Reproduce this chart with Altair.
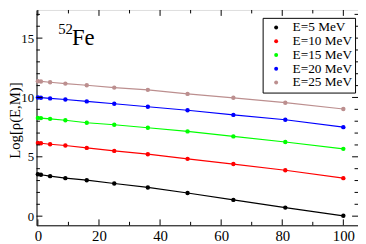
import altair as alt
import pandas as pd

# ---- data ----
x_vals = [0, 1, 4, 9, 16, 25, 36, 49, 64, 81, 100]
series_names = ["E=5 MeV", "E=10 MeV", "E=15 MeV", "E=20 MeV", "E=25 MeV"]
e5 = [3.53, 3.49, 3.37, 3.20, 3.03, 2.75, 2.42, 1.95, 1.37, 0.72, 0.03]
e10 = [6.17, 6.14, 6.06, 5.95, 5.75, 5.50, 5.22, 4.83, 4.39, 3.87, 3.20]
e15 = [8.28, 8.26, 8.20, 8.08, 7.87, 7.70, 7.45, 7.14, 6.72, 6.25, 5.67]
e20 = [10.00, 9.98, 9.92, 9.83, 9.67, 9.47, 9.22, 8.92, 8.53, 8.12, 7.50]
e25 = [11.37, 11.35, 11.28, 11.17, 11.03, 10.83, 10.64, 10.30, 9.97, 9.56, 9.03]
colors = ["#000000", "#ff0000", "#00ff00", "#0000ff", "#bc8f8f"]

x_major = [0, 20, 40, 60, 80, 100]
x_minor = [10, 30, 50, 70, 90]
y_major = [0, 5, 10, 15]
y_minor = [1, 2, 3, 4, 6, 7, 8, 9, 11, 12, 13, 14, 16, 17]

rows = []
for name, ys in zip(series_names, [e5, e10, e15, e20, e25]):
    for xv, yv in zip(x_vals, ys):
        rows.append({"M": xv, "rho": yv, "E": name})
df = pd.DataFrame(rows)

W, H = 327, 219
FONT = "Liberation Serif"

xscale = alt.Scale(domain=[-0.45, 104.8], nice=False, zero=False)
yscale = alt.Scale(domain=[-0.77, 17.37], nice=False, zero=False)

color = alt.Color(
    "E:N",
    scale=alt.Scale(domain=series_names, range=colors),
    sort=series_names,
    legend=alt.Legend(
        title=None,
        orient="none",
        legendX=230,
        legendY=8,
        strokeColor="#000000",
        fillColor="#ffffff",
        padding=3,
        symbolOffset=4,
        symbolType="circle",
        symbolSize=16,
        symbolStrokeWidth=0,
        labelOffset=10,
        labelFont=FONT,
        labelFontSize=13.5,
        labelColor="#000000",
        rowPadding=-4,
        cornerRadius=0,
    ),
)

xenc = alt.X(
    "M:Q",
    scale=xscale,
    axis=alt.Axis(
        values=x_major, ticks=False, domain=True, domainColor="#000000",
        grid=False, labelFont=FONT, labelFontSize=15, labelColor="#000000",
        labelPadding=3, title=None,
    ),
)
yenc = alt.Y(
    "rho:Q",
    scale=yscale,
    axis=alt.Axis(
        values=y_major, ticks=False, domain=True, domainColor="#000000",
        grid=False, labelFont=FONT, labelFontSize=13, labelColor="#000000",
        labelPadding=3, title="Log[ρ(E,M)]", titleFont=FONT, titleFontSize=15,
        titleFontWeight="normal", titleColor="#000000",
        titleX=-17, titleY=112, titleBaseline="alphabetic",
    ),
)

base = alt.Chart(df)
lines = base.mark_line(strokeWidth=1.2, clip=True).encode(x=xenc, y=yenc, color=color, detail="E:N")
pts = base.mark_circle(size=20, opacity=1).encode(x="M:Q", y="rho:Q", color=alt.Color("E:N", legend=None, scale=alt.Scale(domain=series_names, range=colors)))

# tick marks (inward, on all four sides)
xmaj = pd.DataFrame({"v": x_major})
xmin = pd.DataFrame({"v": x_minor})
ymaj = pd.DataFrame({"v": y_major})
ymin = pd.DataFrame({"v": y_minor})
tick_color = "#000000"
def xt(d, L, top):
    if top:
        return alt.Chart(d).mark_rule(color=tick_color, strokeWidth=1).encode(
            x=alt.X("v:Q", scale=xscale), y=alt.value(0), y2=alt.value(L))
    return alt.Chart(d).mark_rule(color=tick_color, strokeWidth=1).encode(
        x=alt.X("v:Q", scale=xscale), y=alt.value(H), y2=alt.value(H - L))
def yt(d, L, right):
    if right:
        return alt.Chart(d).mark_rule(color=tick_color, strokeWidth=1).encode(
            y=alt.Y("v:Q", scale=yscale), x=alt.value(W), x2=alt.value(W - L))
    return alt.Chart(d).mark_rule(color=tick_color, strokeWidth=1).encode(
        y=alt.Y("v:Q", scale=yscale), x=alt.value(0), x2=alt.value(L))

ticks = [xt(xmaj, 6, False), xt(xmaj, 6, True), xt(xmin, 3.5, False), xt(xmin, 3.5, True),
         yt(ymaj, 6, False), yt(ymaj, 6, True), yt(ymin, 3.5, False), yt(ymin, 3.5, True)]

fe = alt.Chart(pd.DataFrame({"t": ["Fe"]})).mark_text(
    font=FONT, fontSize=23, align="left", baseline="alphabetic", color="#000000"
).encode(text="t:N", x=alt.value(36), y=alt.value(36))
sup = alt.Chart(pd.DataFrame({"t": ["52"]})).mark_text(
    font=FONT, fontSize=15, align="left", baseline="alphabetic", color="#000000"
).encode(text="t:N", x=alt.value(22), y=alt.value(24))

chart = alt.layer(lines, pts, *ticks, fe, sup).properties(
    width=W, height=H,
    autosize=alt.AutoSizeParams(type="none"),
    padding={"left": 29, "top": 0, "right": 0, "bottom": 17},
).configure_view(stroke="#666666", strokeWidth=1).configure(background="#ffffff")

chart.save("out.html", embed_options={"renderer": "svg", "actions": False})
